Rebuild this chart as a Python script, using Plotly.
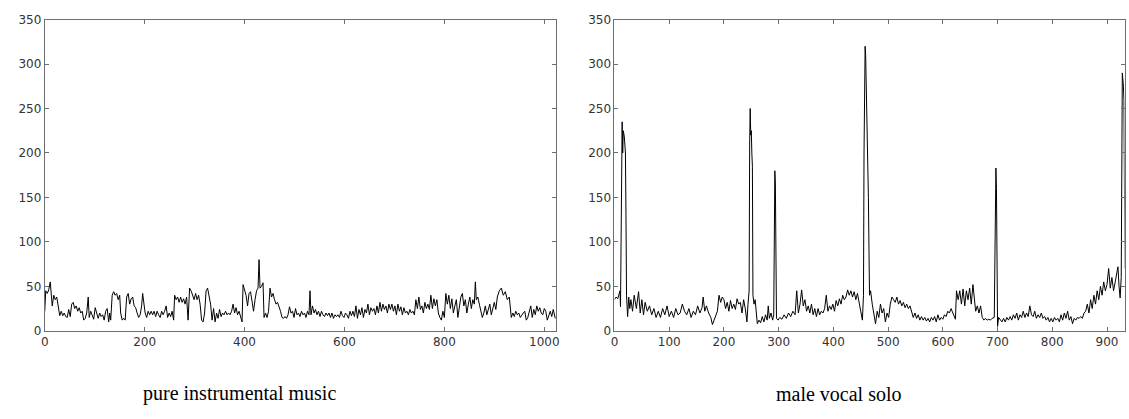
import plotly.graph_objects as go

# ---- Data: pure instrumental music (left panel), (frame index, value) ----
instr_pts = [
    (0, 22), (2, 45), (5, 42), (8, 46), (11, 55), (13, 40), (15, 28), (18, 40), (21, 35), (24, 38), (27, 25), (30, 17),
    (33, 22), (36, 17), (39, 20), (42, 16), (45, 15), (48, 24), (51, 16), (54, 30), (57, 32), (60, 25), (63, 28), (66, 22),
    (69, 26), (72, 20), (75, 22), (78, 12), (81, 14), (84, 20), (87, 38), (89, 15), (92, 22), (95, 16), (98, 13), (101, 26),
    (104, 18), (107, 14), (110, 20), (113, 16), (116, 18), (119, 12), (122, 22), (125, 25), (128, 10), (130, 20), (132, 12),
    (135, 40), (138, 44), (141, 40), (144, 42), (147, 35), (150, 40), (152, 20), (155, 12), (158, 14), (161, 12), (164, 38),
    (167, 42), (170, 30), (173, 36), (176, 38), (179, 28), (182, 26), (185, 20), (188, 15), (191, 18), (194, 28), (196, 42),
    (198, 30), (201, 20), (204, 15), (207, 22), (210, 18), (213, 22), (216, 18), (219, 22), (222, 16), (225, 22), (228, 18),
    (231, 15), (234, 22), (237, 18), (240, 22), (243, 28), (246, 15), (249, 20), (252, 16), (255, 22), (258, 12), (260, 40),
    (263, 35), (266, 38), (269, 32), (272, 38), (275, 32), (278, 36), (281, 30), (284, 38), (287, 12), (290, 48), (293, 45),
    (296, 40), (299, 35), (302, 42), (305, 35), (308, 40), (311, 30), (314, 12), (317, 10), (320, 20), (323, 45), (326, 48),
    (329, 40), (332, 30), (335, 12), (338, 25), (341, 10), (344, 20), (347, 14), (350, 24), (353, 16), (356, 20), (359, 18),
    (362, 22), (365, 18), (368, 20), (371, 18), (374, 22), (377, 30), (380, 20), (383, 26), (386, 18), (389, 22), (392, 16),
    (395, 10), (397, 52), (400, 45), (403, 40), (406, 28), (409, 42), (412, 44), (415, 30), (418, 22), (421, 35), (424, 45),
    (427, 48), (429, 80), (431, 48), (434, 50), (437, 54), (439, 15), (442, 20), (445, 15), (448, 22), (451, 48), (454, 38),
    (457, 42), (460, 35), (463, 30), (466, 32), (469, 28), (472, 22), (475, 15), (478, 14), (481, 16), (484, 14), (487, 18),
    (490, 27), (493, 20), (496, 22), (499, 15), (502, 25), (505, 18), (508, 20), (511, 16), (514, 22), (517, 18), (520, 20),
    (523, 15), (526, 22), (529, 18), (531, 45), (533, 18), (536, 28), (539, 20), (542, 24), (545, 18), (548, 22), (551, 16),
    (554, 22), (557, 18), (560, 16), (563, 20), (566, 17), (569, 20), (572, 15), (575, 20), (578, 14), (581, 18), (584, 16),
    (587, 18), (590, 15), (593, 22), (596, 17), (599, 15), (602, 20), (605, 18), (608, 14), (611, 22), (614, 17), (617, 22),
    (620, 16), (623, 28), (626, 14), (629, 24), (632, 18), (635, 26), (638, 15), (641, 24), (644, 20), (647, 30), (650, 18),
    (653, 26), (656, 22), (659, 25), (662, 18), (665, 28), (668, 20), (671, 32), (674, 22), (677, 30), (680, 24), (683, 28),
    (686, 20), (689, 30), (692, 24), (695, 30), (698, 22), (701, 28), (704, 18), (707, 30), (710, 22), (713, 27), (716, 18),
    (719, 26), (722, 20), (725, 22), (728, 18), (731, 24), (734, 20), (737, 22), (740, 18), (743, 35), (746, 25), (749, 38),
    (752, 24), (755, 28), (758, 20), (761, 32), (764, 25), (767, 30), (770, 24), (773, 40), (776, 25), (779, 36), (782, 28),
    (785, 35), (788, 20), (791, 15), (794, 12), (797, 22), (800, 15), (803, 42), (806, 30), (809, 40), (812, 25), (815, 36),
    (818, 20), (821, 28), (824, 35), (827, 15), (830, 30), (833, 38), (836, 42), (839, 28), (842, 35), (845, 20), (848, 30),
    (851, 38), (854, 25), (857, 35), (860, 30), (862, 55), (864, 35), (867, 38), (870, 30), (873, 22), (876, 15), (879, 20),
    (882, 28), (885, 18), (888, 25), (891, 30), (894, 18), (897, 24), (900, 32), (903, 24), (906, 38), (910, 45), (914, 48),
    (918, 40), (922, 44), (926, 35), (930, 38), (934, 15), (937, 20), (940, 16), (943, 22), (946, 18), (949, 20), (952, 15),
    (955, 18), (958, 20), (961, 22), (964, 12), (967, 15), (970, 22), (973, 28), (976, 15), (979, 24), (982, 18), (985, 28),
    (988, 22), (991, 26), (994, 20), (997, 18), (1000, 25), (1003, 22), (1006, 12), (1009, 18), (1012, 22), (1015, 16),
    (1018, 24), (1022, 14),
]

# ---- Data: male vocal solo (right panel), (frame index, value) ----
vocal_pts = [
    (0, 35), (3, 38), (6, 36), (8, 42), (10, 45), (11, 27), (12, 90), (13, 200), (14, 235), (15, 200), (16, 225), (17, 222),
    (18, 218), (19, 210), (20, 200), (21, 130), (22, 40), (24, 16), (26, 38), (28, 25), (30, 35), (33, 22), (36, 40),
    (40, 25), (44, 44), (47, 20), (50, 35), (53, 18), (56, 32), (60, 22), (64, 28), (68, 18), (72, 25), (76, 15), (80, 22),
    (84, 15), (88, 25), (92, 18), (96, 28), (100, 16), (104, 22), (108, 15), (112, 25), (116, 18), (120, 20), (124, 30),
    (128, 22), (132, 18), (136, 25), (140, 15), (144, 22), (148, 18), (152, 28), (156, 20), (160, 26), (162, 38), (165, 22),
    (168, 28), (172, 20), (176, 15), (179, 7), (182, 12), (185, 16), (188, 22), (191, 40), (194, 32), (197, 38), (200, 35),
    (203, 25), (206, 32), (209, 22), (212, 34), (215, 25), (218, 30), (221, 24), (224, 36), (227, 30), (230, 32), (233, 20),
    (236, 35), (239, 25), (242, 10), (244, 30), (246, 45), (247, 210), (248, 250), (249, 220), (250, 225), (251, 200),
    (252, 185), (253, 40), (255, 30), (257, 35), (259, 20), (261, 8), (264, 12), (267, 9), (270, 16), (273, 10), (276, 18),
    (279, 12), (281, 28), (283, 14), (286, 20), (289, 12), (291, 18), (292, 150), (293, 180), (294, 165), (295, 50),
    (296, 14), (299, 12), (302, 15), (306, 13), (310, 18), (314, 14), (318, 20), (322, 16), (326, 22), (330, 18), (333, 45),
    (336, 20), (339, 30), (342, 46), (345, 28), (348, 35), (351, 22), (354, 28), (357, 20), (360, 30), (363, 18), (366, 25),
    (369, 16), (372, 25), (375, 18), (378, 22), (381, 20), (384, 25), (387, 40), (390, 22), (393, 28), (396, 24), (399, 30),
    (402, 22), (405, 34), (408, 28), (411, 36), (414, 30), (417, 40), (420, 35), (423, 38), (426, 46), (429, 40), (432, 45),
    (435, 38), (438, 44), (441, 35), (444, 42), (447, 30), (450, 22), (453, 12), (455, 40), (456, 200), (457, 300),
    (458, 320), (459, 310), (460, 280), (461, 250), (462, 200), (464, 150), (466, 40), (468, 45), (471, 30), (474, 20),
    (477, 8), (480, 22), (483, 15), (486, 30), (489, 20), (492, 25), (495, 10), (498, 20), (501, 15), (504, 30), (507, 38),
    (510, 35), (513, 32), (516, 38), (519, 30), (522, 34), (525, 28), (528, 32), (531, 26), (534, 30), (537, 25), (540, 28),
    (543, 22), (546, 15), (549, 20), (552, 14), (555, 18), (558, 12), (561, 16), (564, 12), (567, 15), (570, 11), (573, 14),
    (576, 10), (579, 15), (582, 12), (585, 16), (588, 10), (591, 18), (594, 12), (597, 15), (600, 13), (603, 18), (606, 16),
    (609, 22), (612, 20), (615, 25), (618, 20), (621, 15), (623, 13), (625, 45), (628, 35), (631, 45), (634, 30), (637, 47),
    (640, 28), (643, 45), (646, 35), (649, 48), (652, 30), (655, 52), (658, 35), (660, 22), (663, 28), (666, 20), (669, 28),
    (672, 15), (675, 12), (678, 14), (681, 12), (684, 13), (687, 12), (690, 14), (694, 15), (696, 120), (697, 183),
    (698, 160), (699, 100), (700, 5), (702, 15), (705, 12), (708, 10), (711, 14), (714, 10), (717, 15), (720, 12), (723, 16),
    (726, 12), (729, 18), (732, 14), (735, 20), (738, 12), (741, 18), (744, 15), (747, 22), (750, 15), (753, 20), (756, 16),
    (759, 28), (762, 18), (765, 16), (768, 22), (771, 14), (774, 18), (777, 15), (780, 20), (783, 14), (786, 16), (789, 12),
    (792, 15), (795, 10), (798, 14), (801, 10), (804, 15), (807, 12), (810, 14), (813, 10), (816, 18), (819, 12), (822, 20),
    (825, 14), (828, 22), (831, 12), (834, 16), (837, 8), (840, 14), (843, 12), (846, 15), (849, 14), (852, 16), (855, 14),
    (858, 20), (861, 22), (864, 30), (867, 20), (870, 35), (873, 25), (876, 40), (879, 30), (882, 45), (885, 35), (888, 50),
    (891, 40), (894, 55), (897, 45), (900, 52), (903, 70), (906, 48), (909, 60), (912, 45), (915, 55), (918, 68), (920, 72),
    (922, 50), (924, 37), (926, 60), (927, 200), (928, 290), (930, 275), (931, 260), (932, 150), (933, 70),
]

instr_x = [p[0] for p in instr_pts]
instr_y = [p[1] for p in instr_pts]
vocal_x = [p[0] for p in vocal_pts]
vocal_y = [p[1] for p in vocal_pts]

panel_titles = ["pure instrumental music", "male vocal solo"]
y_ticks = [0, 50, 100, 150, 200, 250, 300, 350]
instr_x_ticks = [0, 200, 400, 600, 800, 1000]
vocal_x_ticks = [0, 100, 200, 300, 400, 500, 600, 700, 800, 900]

W, H = 1129, 419
fig = go.Figure()
fig.add_trace(go.Scatter(x=instr_x, y=instr_y, mode="lines", line=dict(color="black", width=1),
                         xaxis="x", yaxis="y", showlegend=False, hoverinfo="skip"))
fig.add_trace(go.Scatter(x=vocal_x, y=vocal_y, mode="lines", line=dict(color="black", width=1),
                         xaxis="x2", yaxis="y2", showlegend=False, hoverinfo="skip"))

axis_common = dict(showline=True, linecolor="#6e6e6e", linewidth=1, mirror="ticks", ticks="inside",
                   ticklen=4, tickcolor="#6e6e6e", showgrid=False, zeroline=False,
                   tickfont=dict(family="DejaVu Sans", size=12, color="#333333"))

y_dom = [(H - 335) / H, (H - 13) / H]
title_y = (H - 400) / H
fig.update_layout(
    width=W, height=H,
    margin=dict(l=0, r=0, t=0, b=0),
    paper_bgcolor="white", plot_bgcolor="white",
    xaxis=dict(domain=[41 / W, 555.7 / W], range=[0, 1024], tickvals=instr_x_ticks, anchor="y", **axis_common),
    yaxis=dict(domain=y_dom, range=[0, 350], tickvals=y_ticks, anchor="x", **axis_common),
    xaxis2=dict(domain=[614.3 / W, 1127.5 / W], range=[0, 932], tickvals=vocal_x_ticks, anchor="y2", **axis_common),
    yaxis2=dict(domain=y_dom, range=[0, 350], tickvals=y_ticks, anchor="x2", **axis_common),
    annotations=[
        dict(text=panel_titles[0], x=237 / W, y=title_y, xref="paper", yref="paper",
             showarrow=False, xanchor="center", yanchor="middle",
             font=dict(family="Liberation Serif", size=20, color="black")),
        dict(text=panel_titles[1], x=840 / W, y=title_y, xref="paper", yref="paper",
             showarrow=False, xanchor="center", yanchor="middle",
             font=dict(family="Liberation Serif", size=20, color="black")),
    ],
)

fig.write_html("out.html", config={"displayModeBar": False},
               post_script="document.body.style.margin='0';document.body.style.padding='0';"
                           "document.body.style.overflow='hidden';")
